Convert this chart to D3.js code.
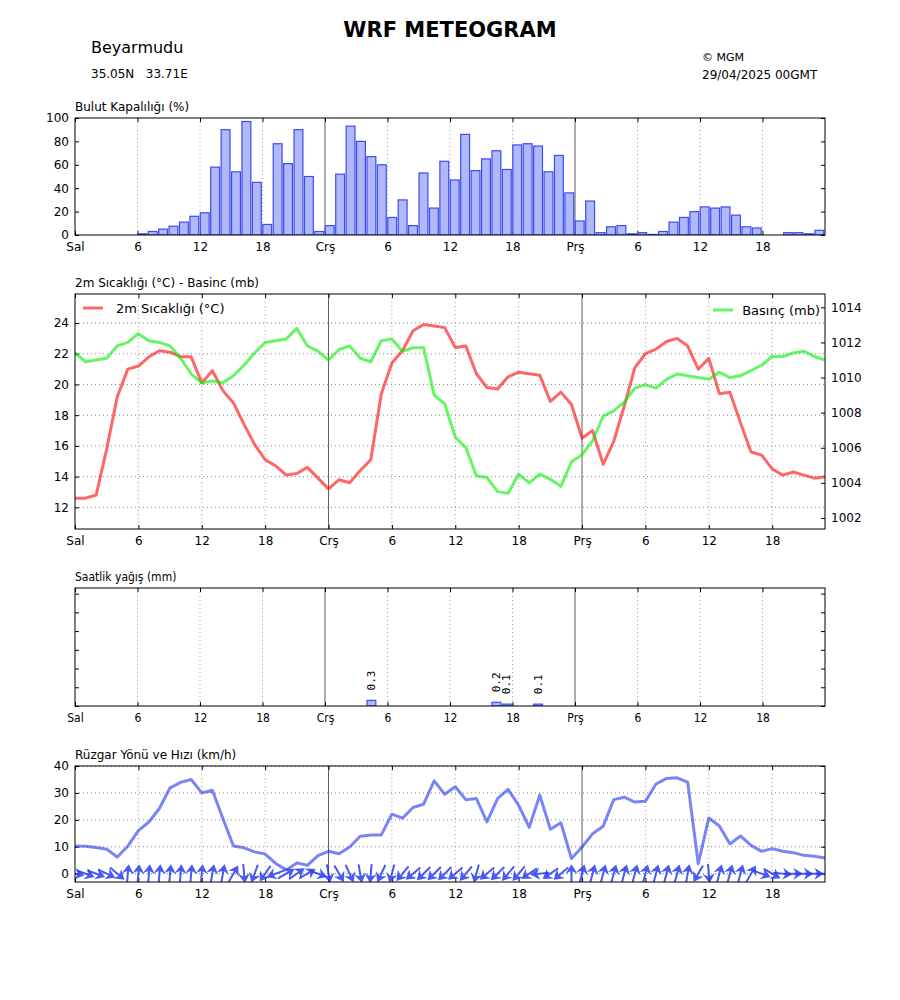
<!DOCTYPE html>
<html>
<head>
<meta charset="utf-8">
<script src="https://cdn.jsdelivr.net/npm/d3@7"></script>
<style>
  body { margin: 0; background: #fff; }
  text { font-family: "DejaVu Sans", sans-serif; fill: #000; }
  .cond text, text.cond { font-family: "DejaVu Sans Condensed", "DejaVu Sans", sans-serif; font-stretch: condensed; }
</style>
</head>
<body>
<div id="chart"></div>
<script>
// x tick labels, every 6 hours
var tickHours = [0, 6, 12, 18, 24, 30, 36, 42, 48, 54, 60, 66];
var tickLabels = ["Sal", "6", "12", "18", "Crş", "6", "12", "18", "Prş", "6", "12", "18"];

// hourly cloud cover (%)
var cloud = [0, 0, 0, 0, 0, 0, 1, 3, 5, 7.5, 11, 16, 19, 58, 90, 54, 97, 45, 9, 78, 61, 90, 50, 3,
    8, 52, 93, 80, 67, 60, 15, 30, 8, 53, 23, 63, 47, 86, 55, 65, 72, 56, 77, 78, 76, 54, 68, 36,
    12, 29, 2, 7, 8, 1, 2, 0.5, 3, 11, 15, 20, 24, 23, 24, 17, 7, 6, 0, 0, 2, 2, 1, 4];

// 2m temperature (C)
var temp = [12.6, 12.6, 12.8, 15.8, 19.2, 21.0, 21.2, 21.8, 22.2, 22.1,
    21.8, 21.8, 20.1, 20.9, 19.6, 18.8, 17.4, 16.1, 15.1, 14.7,
    14.1, 14.2, 14.6, 13.9, 13.2, 13.8, 13.6, 14.4, 15.1, 19.4,
    21.4, 22.2, 23.5, 23.9, 23.8, 23.7, 22.4, 22.5, 20.7, 19.8,
    19.7, 20.5, 20.8, 20.7, 20.6, 18.9, 19.5, 18.7, 16.5, 17.0,
    14.8, 16.3, 18.6, 21.1, 22.0, 22.3, 22.8, 23.0, 22.5, 21.0,
    21.7, 19.4, 19.5, 17.5, 15.6, 15.4, 14.5, 14.1, 14.3, 14.1,
    13.9, 14.0];

// pressure (mb)
var pres = [1011.4, 1010.9, 1011.0, 1011.1, 1011.8, 1012.0, 1012.5, 1012.1, 1012.0, 1011.8,
    1011.1, 1010.2, 1009.7, 1009.8, 1009.7, 1010.1, 1010.7, 1011.4, 1012.0, 1012.1,
    1012.2, 1012.8, 1011.8, 1011.5, 1011.0, 1011.6, 1011.8, 1011.1, 1010.9, 1012.1,
    1012.2, 1011.5, 1011.7, 1011.7, 1009.0, 1008.5, 1006.6, 1006.0, 1004.4, 1004.3,
    1003.5, 1003.4, 1004.5, 1004.0, 1004.5, 1004.2, 1003.8, 1005.2, 1005.6, 1006.4,
    1007.8, 1008.1, 1008.6, 1009.4, 1009.6, 1009.4, 1009.9, 1010.2, 1010.1, 1010.0,
    1009.9, 1010.3, 1010.0, 1010.1, 1010.4, 1010.7, 1011.2, 1011.2, 1011.4, 1011.5,
    1011.2, 1011.0];

// hourly precipitation (mm), only non-zero hours
var rainHours = [28, 40, 41, 44];
var rainValues = [0.3, 0.2, 0.1, 0.1];

// wind speed (km/h) and direction (degrees, from)
var windSpeed = [10.3, 10.2, 9.7, 9.1, 6.2, 10.2, 16.0, 19.2, 24.3, 31.9,
    33.9, 35.0, 30.0, 31.0, 20.5, 10.3, 9.6, 8.1, 7.3, 3.8,
    1.4, 4.0, 3.1, 6.7, 8.3, 7.4, 9.9, 13.9, 14.4, 14.4,
    22.1, 20.6, 24.6, 25.8, 34.5, 29.5, 32.3, 27.5, 27.9, 19.2,
    27.9, 31.3, 25.4, 17.2, 29.2, 16.5, 18.9, 5.6, 9.9, 14.8,
    17.6, 27.5, 28.4, 26.6, 26.9, 33.3, 35.4, 35.6, 34.0, 3.7,
    20.7, 17.7, 11.0, 14.0, 10.5, 8.3, 9.3, 8.3, 7.8, 6.8,
    6.5, 5.8];
var windDir = [280, 290, 290, 295, 310, 185, 185, 185, 185, 185,
    185, 185, 185, 190, 190, 210, 355, 20, 35, 70,
    240, 235, 240, 290, 350, 330, 335, 350, 5, 25,
    15, 40, 50, 45, 45, 45, 50, 40, 15, 50,
    45, 40, 40, 55, 85, 55, 50, 180, 195, 195,
    195, 195, 195, 195, 195, 195, 195, 195, 190, 30,
    355, 195, 195, 195, 210, 290, 300, 275, 270, 270,
    270, 270];

var hours = d3.range(cloud.length);

var W = 900, H = 1000;
var left = 75, right = 825;

var svg = d3.select("#chart").append("svg")
    .attr("width", W)
    .attr("height", H);

// header
svg.append("text").attr("x", 450).attr("y", 37).attr("text-anchor", "middle")
    .style("font-size", "21px").style("font-weight", "bold").text("WRF METEOGRAM");
svg.append("text").attr("x", 91).attr("y", 53).style("font-size", "16px").text("Beyarmudu");
svg.append("text").attr("x", 91).attr("y", 78).style("font-size", "12px")
    .attr("xml:space", "preserve").text("35.05N   33.71E");
svg.append("text").attr("x", 702).attr("y", 61).style("font-size", "11px").text("© MGM");
svg.append("text").attr("x", 702).attr("y", 79).style("font-size", "12px").text("29/04/2025 00GMT");

// draws frame, grid and x axis for one panel
function panel(top, bottom, xmax, title, cls) {
    var g = svg.append("g").attr("class", cls || null);
    var x = d3.scaleLinear().domain([0, xmax]).range([left, right]);

    g.append("text").attr("x", left).attr("y", top - 7)
        .style("font-size", "12px").text(title);

    // vertical grid
    tickHours.forEach(function (h) {
        if (h === 0) return;
        g.append("line")
            .attr("x1", x(h)).attr("x2", x(h))
            .attr("y1", top).attr("y2", bottom)
            .attr("stroke", h % 24 === 0 ? "#333" : "#888")
            .attr("stroke-width", 0.8)
            .attr("stroke-dasharray", h % 24 === 0 ? null : "1,3");
    });

    var xb = g.append("g")
        .attr("transform", "translate(0," + bottom + ")")
        .call(d3.axisBottom(x).tickValues(tickHours)
            .tickFormat(function (d, i) { return tickLabels[i]; })
            .tickSizeInner(-4).tickSizeOuter(0).tickPadding(7));
    xb.select(".domain").remove();
    xb.selectAll("text").style("font-size", "12px").attr("fill", "#000");

    var xt = g.append("g")
        .attr("transform", "translate(0," + top + ")")
        .call(d3.axisTop(x).tickValues(tickHours).tickFormat("")
            .tickSizeInner(-4).tickSizeOuter(0));
    xt.select(".domain").remove();

    var clipId = "clip" + top;
    svg.append("clipPath").attr("id", clipId).append("rect")
        .attr("x", left).attr("y", top).attr("width", right - left).attr("height", bottom - top);

    return { g: g, x: x, clip: "url(#" + clipId + ")" };
}

function frame(g, top, bottom) {
    g.append("rect")
        .attr("x", left).attr("y", top)
        .attr("width", right - left).attr("height", bottom - top)
        .attr("fill", "none").attr("stroke", "#000").attr("stroke-width", 1);
}

function yAxes(g, y, ticks, showLabels, rightTicks) {
    var a = g.append("g").attr("transform", "translate(" + left + ",0)")
        .call(d3.axisLeft(y).tickValues(ticks).tickSizeInner(-4).tickSizeOuter(0).tickPadding(6)
            .tickFormat(showLabels ? d3.format("d") : ""));
    a.select(".domain").remove();
    a.selectAll("text").style("font-size", "12px").attr("fill", "#000");
    if (rightTicks) {
        var b = g.append("g").attr("transform", "translate(" + right + ",0)")
            .call(d3.axisRight(y).tickValues(ticks).tickSizeInner(-4).tickSizeOuter(0).tickFormat(""));
        b.select(".domain").remove();
    }
}

function hGrid(g, y, ticks) {
    g.selectAll(null).data(ticks).enter().append("line")
        .attr("x1", left).attr("x2", right)
        .attr("y1", function (d) { return y(d); })
        .attr("y2", function (d) { return y(d); })
        .attr("stroke", "#666").attr("stroke-width", 0.8)
        .attr("stroke-dasharray", "1,3");
}

var barFill = "#b0b8f8", barStroke = "#3a4cf0";

// ---- cloud cover ----
(function () {
    var top = 118, bottom = 235;
    var p = panel(top, bottom, 72, "Bulut Kapalılığı (%)");
    var y = d3.scaleLinear().domain([0, 100]).range([bottom, top]);
    yAxes(p.g, y, [0, 20, 40, 60, 80, 100], true, true);

    p.g.append("g").attr("clip-path", p.clip)
        .selectAll("rect").data(hours).enter().append("rect")
        .attr("x", function (h) { return p.x(h) + 0.3; })
        .attr("width", p.x(0.85) - p.x(0))
        .attr("y", function (h) { return y(cloud[h]); })
        .attr("height", function (h) { return bottom - y(cloud[h]); })
        .attr("fill", barFill)
        .attr("stroke", barStroke)
        .attr("stroke-opacity", function (h) { return cloud[h] > 0 ? 1 : 0.25; })
        .attr("stroke-width", 1.2);
    frame(p.g, top, bottom);
})();

// ---- temperature & pressure ----
(function () {
    var top = 294, bottom = 529;
    var p = panel(top, bottom, 71, "2m Sıcaklığı (°C) - Basinc (mb)");
    var y = d3.scaleLinear().domain([10.59, 25.89]).range([bottom, top]);
    var yp = d3.scaleLinear().domain([1001.37, 1014.76]).range([bottom, top]);
    var tTicks = [12, 14, 16, 18, 20, 22, 24];
    hGrid(p.g, y, tTicks);
    yAxes(p.g, y, tTicks, true, false);

    var r = p.g.append("g").attr("transform", "translate(" + right + ",0)")
        .call(d3.axisRight(yp).tickValues([1002, 1004, 1006, 1008, 1010, 1012, 1014])
            .tickSizeInner(-4).tickSizeOuter(0).tickPadding(6).tickFormat(d3.format("d")));
    r.select(".domain").remove();
    r.selectAll("text").style("font-size", "12px").attr("fill", "#000");

    var lines = p.g.append("g").attr("clip-path", p.clip);
    lines.append("path").datum(hours)
        .attr("d", d3.line().x(function (h) { return p.x(h); }).y(function (h) { return y(temp[h]); }))
        .attr("fill", "none").attr("stroke", "#ff0000").attr("stroke-opacity", 0.6)
        .attr("stroke-width", 3).attr("stroke-linejoin", "round");
    lines.append("path").datum(hours)
        .attr("d", d3.line().x(function (h) { return p.x(h); }).y(function (h) { return yp(pres[h]); }))
        .attr("fill", "none").attr("stroke", "#00ee00").attr("stroke-opacity", 0.6)
        .attr("stroke-width", 3).attr("stroke-linejoin", "round");

    // legends
    p.g.append("line").attr("x1", 83).attr("x2", 103).attr("y1", 308).attr("y2", 308)
        .attr("stroke", "#ff0000").attr("stroke-opacity", 0.6).attr("stroke-width", 3);
    p.g.append("text").attr("x", 116).attr("y", 312.5).style("font-size", "13px").text("2m Sıcaklığı (°C)");
    p.g.append("line").attr("x1", 713).attr("x2", 733).attr("y1", 310).attr("y2", 310)
        .attr("stroke", "#00ee00").attr("stroke-opacity", 0.6).attr("stroke-width", 3);
    p.g.append("text").attr("x", 820).attr("y", 314.5).attr("text-anchor", "end")
        .style("font-size", "13px").text("Basınç (mb)");
    frame(p.g, top, bottom);
})();

// ---- precipitation ----
(function () {
    var top = 588, bottom = 706;
    var p = panel(top, bottom, 72, "Saatlik yağış (mm)", "cond");
    var y = d3.scaleLinear().domain([0, 6.3]).range([bottom, top]);
    yAxes(p.g, y, [0, 1, 2, 3, 4, 5, 6], false, true);

    var rain = hours.map(function (h) {
        var i = rainHours.indexOf(h);
        return i >= 0 ? rainValues[i] : 0;
    });
    p.g.append("g").attr("clip-path", p.clip)
        .selectAll("rect").data(hours).enter().append("rect")
        .attr("x", function (h) { return p.x(h) + 0.3; })
        .attr("width", p.x(0.85) - p.x(0))
        .attr("y", function (h) { return y(rain[h]); })
        .attr("height", function (h) { return bottom - y(rain[h]); })
        .attr("fill", barFill).attr("stroke", barStroke)
        .attr("stroke-opacity", function (h) { return rain[h] > 0 ? 1 : 0.2; })
        .attr("stroke-width", 1.2);

    p.g.selectAll("text.rl").data(rainHours).enter().append("text")
        .attr("class", "rl")
        .attr("transform", function (h, i) {
            var cx = p.x(h + 0.425), cy = y(rainValues[i]) - 10;
            return "translate(" + cx + "," + cy + ") rotate(-90)";
        })
        .attr("dy", "0.35em")
        .style("font-family", "'DejaVu Sans Mono', monospace")
        .style("font-size", "11px")
        .text(function (h, i) { return rainValues[i].toFixed(1); });
    frame(p.g, top, bottom);
})();

// ---- wind ----
(function () {
    var top = 766, bottom = 882;
    var p = panel(top, bottom, 71, "Rüzgar Yönü ve Hızı (km/h)");
    var y = d3.scaleLinear().domain([-3.1, 40]).range([bottom, top]);
    var wTicks = [0, 10, 20, 30, 40];
    hGrid(p.g, y, wTicks);
    yAxes(p.g, y, wTicks, true, true);

    var body = p.g.append("g").attr("clip-path", p.clip);
    body.append("path").datum(hours)
        .attr("d", d3.line().x(function (h) { return p.x(h); }).y(function (h) { return y(windSpeed[h]); }))
        .attr("fill", "none").attr("stroke", "#2233ee").attr("stroke-opacity", 0.6)
        .attr("stroke-width", 3).attr("stroke-linejoin", "round");

    // quiver arrows, pivot in the middle, pointing where the wind goes
    var arrow = "M-9.5,-1L2.5,-1L0,-6L9.5,0L0,6L2.5,1L-9.5,1Z";
    body.selectAll("path.arr").data(hours).enter().append("path")
        .attr("class", "arr")
        .attr("d", arrow)
        .attr("transform", function (h) {
            var rot = (windDir[h] + 180) - 90;
            return "translate(" + p.x(h) + "," + y(0) + ") rotate(" + rot + ")";
        })
        .attr("fill", "#2a3cf0").attr("fill-opacity", 0.85);
    frame(p.g, top, bottom);
})();
</script>
</body>
</html>
